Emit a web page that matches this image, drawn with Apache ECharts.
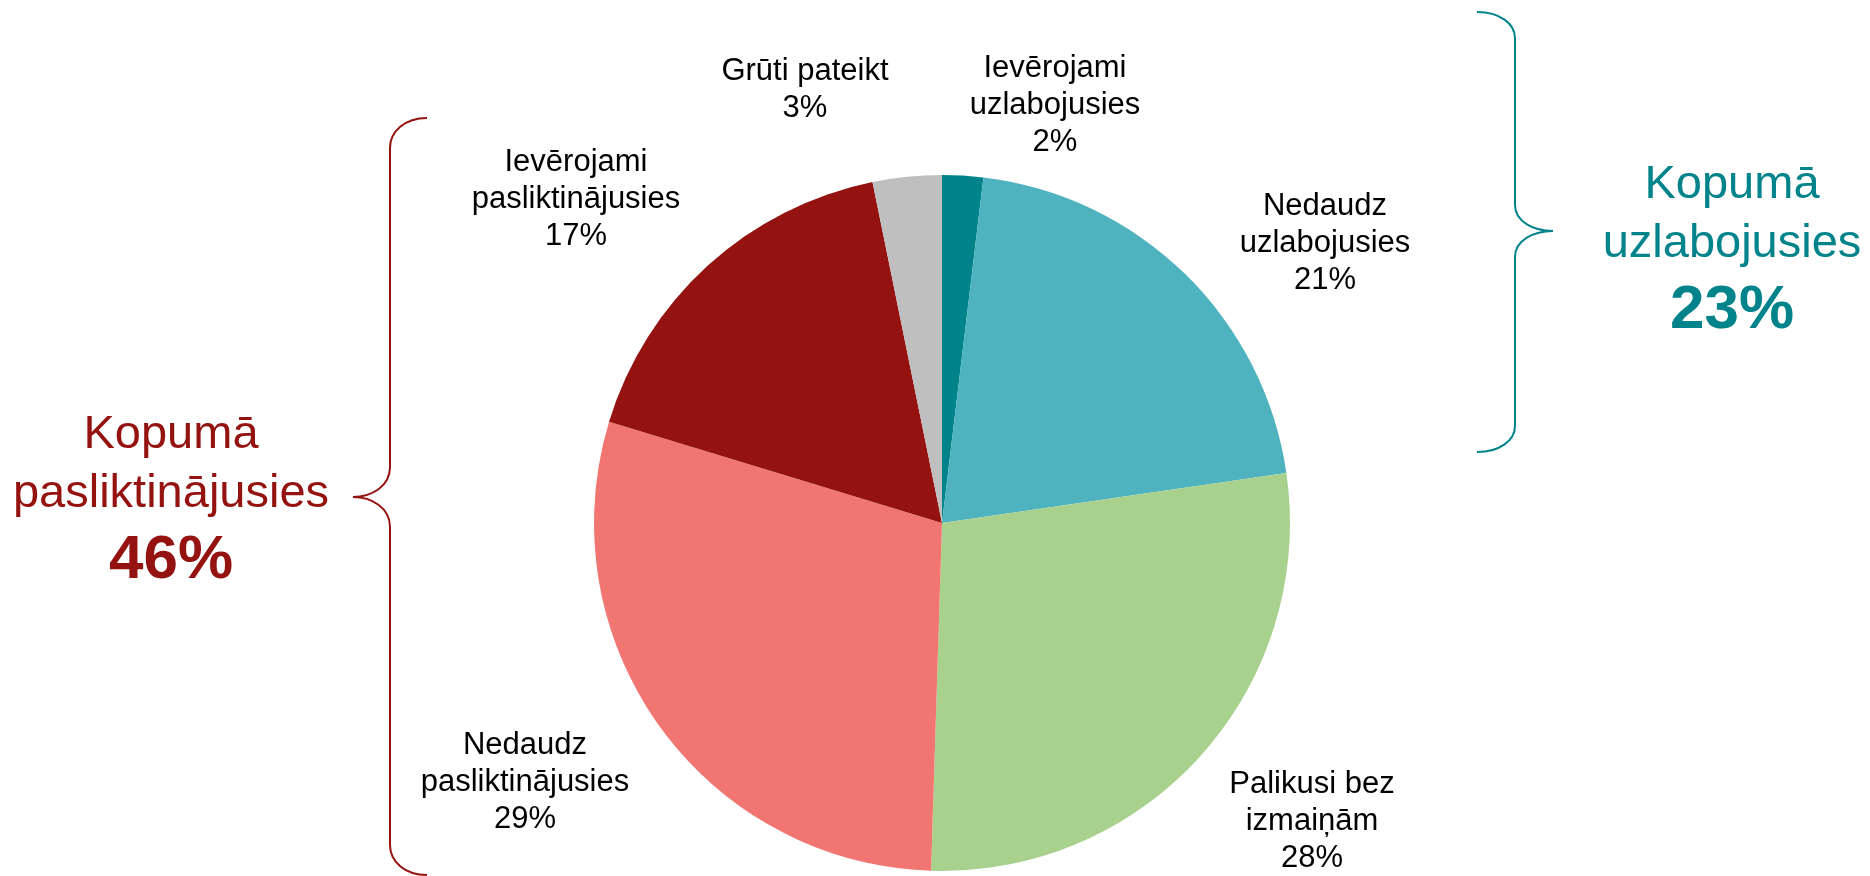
<!DOCTYPE html>
<html>
<head>
<meta charset="utf-8">
<title>Pie</title>
<script src="https://cdn.jsdelivr.net/npm/echarts@6/dist/echarts.min.js"></script>
<style>
	html, body { margin: 0; padding: 0; background: #ffffff; }
	#main { width: 1870px; height: 876px; }
</style>
</head>
<body>
<div id="main"></div>
<script>
	// data (shares, shown rounded)
	var categories = ['Ievērojami\nuzlabojusies', 'Nedaudz\nuzlabojusies', 'Palikusi bez\nizmaiņām', 'Nedaudz\npasliktinājusies', 'Ievērojami\npasliktinājusies', 'Grūti pateikt'];
	var values = [1.9, 20.8, 27.8, 29.2, 17.1, 3.2];
	var colors = ['#00838A', '#4FB3BF', '#A9D18E', '#F17672', '#941210', '#BFBFBF'];
	var improvedIdx = [0, 1];
	var worsenedIdx = [3, 4];

	var improvedTotal = Math.round(improvedIdx.reduce(function(s, i) { return s + values[i]; }, 0));
	var worsenedTotal = Math.round(worsenedIdx.reduce(function(s, i) { return s + values[i]; }, 0));

	var teal = '#00838A';
	var darkRed = '#941210';
	var font = '"Liberation Sans", Arial, sans-serif';

	var cx = 942, cy = 523, r = 348;
	// label anchors relative to pie centre
	var labelOffsets = [[113, -418], [383, -280], [370, 298], [-417, 259], [-366, -324], [-137, -433]];

	var pieData = values.map(function(v, i) {
		return { name: categories[i], value: v, itemStyle: { color: colors[i] } };
	});

	// curly brace built from beziers and lines
	function brace(spineX, endX, tipX, top, mid, bottom, k, color) {
		var s = { stroke: color, lineWidth: 2, fill: null };
		var ed = endX - spineX, td = tipX - spineX;
		return [
			{ type: 'bezierCurve', shape: { x1: endX, y1: top, cpx1: spineX + ed * 0.4, cpy1: top, cpx2: spineX, cpy2: top + k * 0.45, x2: spineX, y2: top + k }, style: s },
			{ type: 'line', shape: { x1: spineX, y1: top + k, x2: spineX, y2: mid - k }, style: s },
			{ type: 'bezierCurve', shape: { x1: spineX, y1: mid - k, cpx1: spineX, cpy1: mid - k * 0.35, cpx2: spineX + td * 0.5, cpy2: mid, x2: tipX, y2: mid }, style: s },
			{ type: 'bezierCurve', shape: { x1: tipX, y1: mid, cpx1: spineX + td * 0.5, cpy1: mid, cpx2: spineX, cpy2: mid + k * 0.35, x2: spineX, y2: mid + k }, style: s },
			{ type: 'line', shape: { x1: spineX, y1: mid + k, x2: spineX, y2: bottom - k }, style: s },
			{ type: 'bezierCurve', shape: { x1: spineX, y1: bottom - k, cpx1: spineX, cpy1: bottom - k * 0.45, cpx2: spineX + ed * 0.4, cpy2: bottom, x2: endX, y2: bottom }, style: s }
		];
	}

	function groupText(x, y0, word, color, total) {
		return [
			{ type: 'text', x: x, y: y0, style: { text: 'Kopumā', fill: color, font: '47px ' + font, align: 'center', verticalAlign: 'middle' } },
			{ type: 'text', x: x, y: y0 + 59, style: { text: word, fill: color, font: '47px ' + font, align: 'center', verticalAlign: 'middle' } },
			{ type: 'text', x: x, y: y0 + 126, style: { text: total + '%', fill: color, font: 'bold 62px ' + font, align: 'center', verticalAlign: 'middle' } }
		];
	}

	var graphics = []
		.concat(brace(1515, 1477, 1553, 12, 231, 452, 26, teal))
		.concat(brace(390, 427, 353, 118, 497, 875, 30, darkRed))
		.concat(groupText(1732, 185, 'uzlabojusies', teal, improvedTotal))
		.concat(groupText(171, 435, 'pasliktinājusies', darkRed, worsenedTotal));

	var myChart = echarts.init(document.getElementById('main'));
	var option = {
		backgroundColor: '#ffffff',
		animation: false,
		graphic: graphics,
		series: [{
			type: 'pie',
			center: [cx, cy],
			radius: r,
			startAngle: 90,
			clockwise: true,
			avoidLabelOverlap: false,
			itemStyle: { borderWidth: 0 },
			label: {
				show: true,
				position: 'outside',
				color: '#000000',
				fontFamily: font,
				fontSize: 31,
				lineHeight: 37,
				align: 'center',
				formatter: function(p) { return p.name + '\n' + Math.round(p.value) + '%'; }
			},
			labelLine: { show: false },
			labelLayout: function(params) {
				var o = labelOffsets[params.dataIndex];
				return { x: cx + o[0], y: cy + o[1], align: 'center', verticalAlign: 'middle' };
			},
			data: pieData
		}]
	};
	myChart.setOption(option);
</script>
</body>
</html>
